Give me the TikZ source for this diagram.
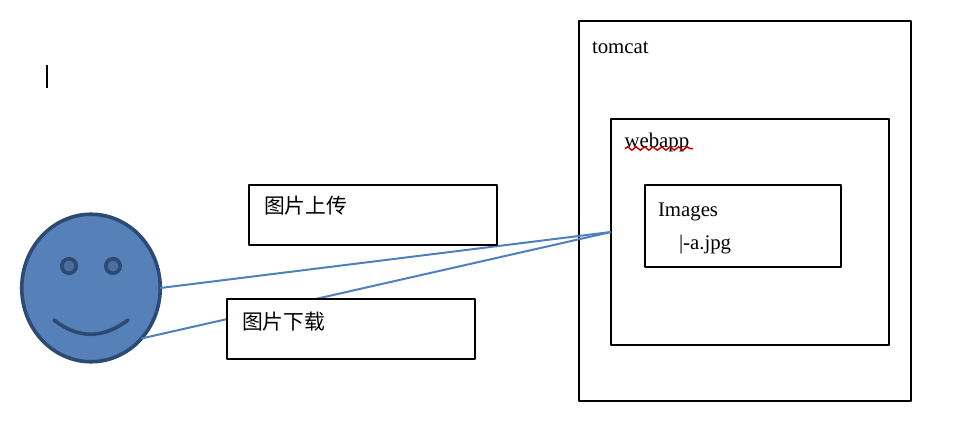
\documentclass[tikz,border=0pt]{standalone}
\usepackage{fontspec}
\setmainfont{Liberation Serif}
\newfontfamily\cjk{Noto Sans CJK SC}
\usetikzlibrary{shapes.geometric,decorations.pathmorphing}
\definecolor{facefill}{HTML}{5580B8}
\definecolor{faceedge}{HTML}{2C4A73}
\definecolor{eyefill}{HTML}{4A6F9F}
\definecolor{linkblue}{HTML}{4F7FBD}
\tikzset{
  x=1pt,y=-1pt,
  boxed/.style={draw=black,fill=white,line width=2.3pt,line join=round,inner sep=0pt,outer sep=0pt,minimum width=#1},
  lbl/.style={anchor=base west,inner sep=0pt,outer sep=0pt,font=\fontsize{20.8}{24}\selectfont},
  cjklbl/.style={anchor=west,inner sep=0pt,outer sep=0pt,font=\cjk\fontsize{20.8}{24}\selectfont},
  link/.style={draw=linkblue,line width=2pt},
  facepart/.style={draw=faceedge,line width=3.6pt},
  eye/.style={ellipse,facepart,fill=eyefill,minimum width=14.5pt,minimum height=14.5pt,inner sep=0pt,outer sep=0pt}
}
\begin{document}
\begin{tikzpicture}
\useasboundingbox (0,0) rectangle (964,428);
% outer boxes
\node[boxed=332pt,minimum height=380pt] (tomcatbox) at (745,211) {};
\node[boxed=278pt,minimum height=226pt] (webappbox) at (750,232) {};
\node[boxed=196pt,minimum height=82pt] (imagesbox) at (743,226) {};
% face
\node[ellipse,facepart,fill=facefill,minimum width=138.5pt,minimum height=147.5pt,inner sep=0pt,outer sep=0pt] (face) at (91,288) {};
\node[eye] (eyeL) at (69,266) {};
\node[eye] (eyeR) at (113,266) {};
\coordinate (smileL) at (54,320);
\coordinate (smileR) at (128,320);
\draw[facepart,line cap=round] (smileL) .. controls (78,339) and (103,339) .. (smileR);
% connectors
\draw[link] (face.east) -- (webappbox.west);
\draw[link] (face.-45) -- (webappbox.west);
% label boxes
\node[boxed=248pt,minimum height=60pt] (upbox) at (373,215) {};
\node[boxed=248pt,minimum height=60pt] (downbox) at (351,329) {};
% text
\node[lbl] (tomcat) at (592,53.5) {tomcat};
\node[lbl] (webapp) at (624.5,147) {webapp};
\node[lbl] (images) at (658,216) {Images};
\node[lbl] (ajpg) at (679,249) {|-a.jpg};
\node[cjklbl] (uptext) at (264,206) {图片上传};
\node[cjklbl] (downtext) at (242,322) {图片下载};
% spell-check squiggle
\coordinate (sqA) at (625,148.5);
\coordinate (sqB) at (693,148.5);
\draw[red!80!black,line width=1.5pt,decorate,decoration={snake,amplitude=1.7pt,segment length=8.5pt}] (sqA) -- (sqB);
% text cursor
\coordinate (curA) at (47,65);
\coordinate (curB) at (47,88);
\draw[black,line width=1.8pt] (curA) -- (curB);
\end{tikzpicture}
\end{document}
